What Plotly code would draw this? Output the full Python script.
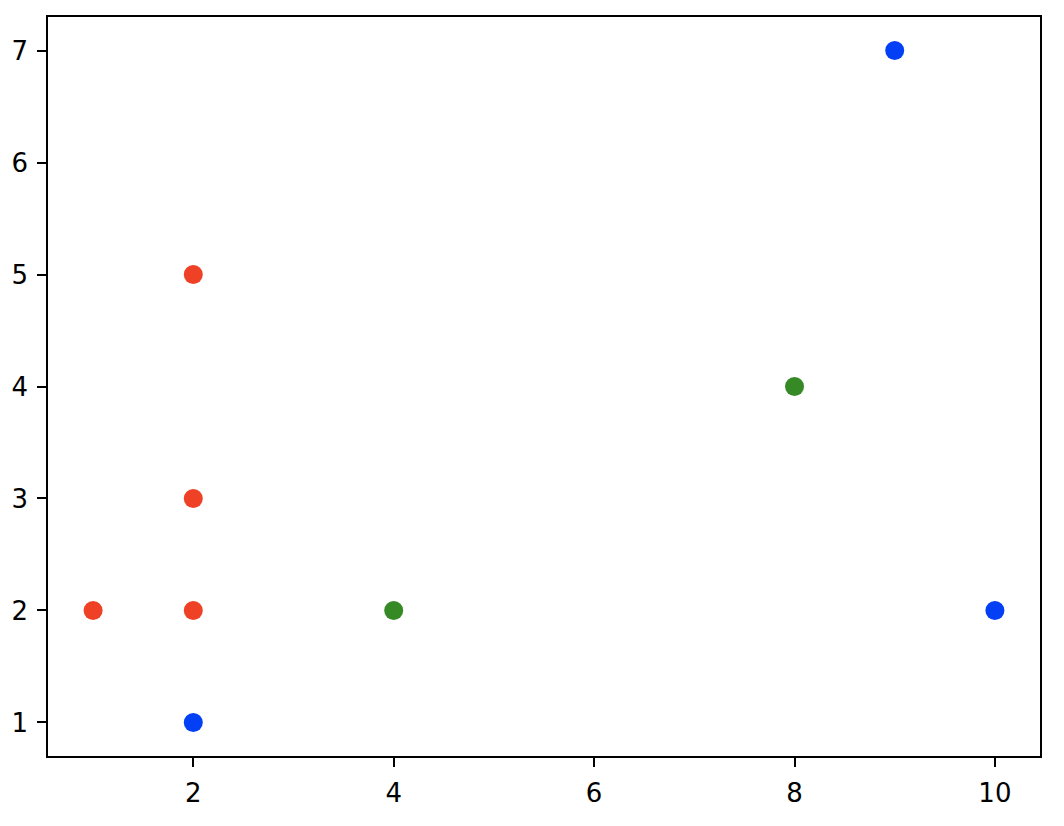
import plotly.graph_objects as go

red_x = [1, 2, 2, 2]
red_y = [2, 5, 3, 2]
green_x = [4, 8]
green_y = [2, 4]
blue_x = [2, 9, 10]
blue_y = [1, 7, 2]

x_ticks = [2, 4, 6, 8, 10]
y_ticks = [1, 2, 3, 4, 5, 6, 7]

fig = go.Figure()
for xs, ys, c in [(red_x, red_y, "#EE4126"), (green_x, green_y, "#368A26"), (blue_x, blue_y, "#0340F5")]:
    fig.add_trace(go.Scatter(x=xs, y=ys, mode="markers",
                             marker=dict(size=19, color=c, line=dict(width=0)),
                             showlegend=False))

axis_common = dict(showgrid=False, zeroline=False, showline=True, linecolor="black",
                   linewidth=1.6, mirror=True, ticks="outside", ticklen=9, tickwidth=1.6,
                   tickcolor="black", ticklabelstandoff=4,
                   tickfont=dict(family="DejaVu Sans", size=26, color="black"))
fig.update_xaxes(range=[0.55, 10.45], tickvals=x_ticks, **axis_common)
fig.update_yaxes(range=[0.7, 7.3], tickvals=y_ticks, **axis_common)

fig.update_layout(width=1048, height=810, plot_bgcolor="white", paper_bgcolor="white",
                  margin=dict(l=40, r=16, t=9, b=62, autoexpand=False))
fig.write_html("out.html")
